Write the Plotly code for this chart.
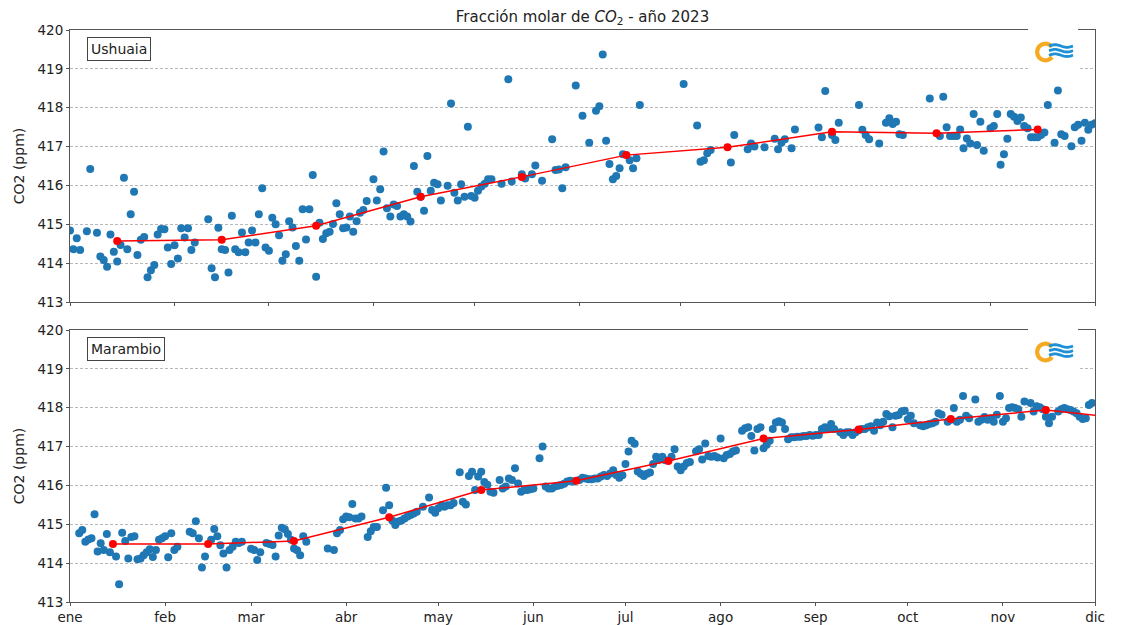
import numpy as np
import pandas as pd
import plotly.graph_objects as go

# ---------------- data ----------------
# Ushuaia: day of year (0 = 1 Jan 2023) and daily CO2 (ppm)
ush_days = [0, 1, 2, 3, 5, 6, 8, 9, 10, 11, 12, 13, 14, 15, 16, 17, 18, 19, 20, 21,
            22, 23, 24, 25, 26, 27, 28, 29, 30, 31, 32, 33, 34, 35, 36, 37,
            41, 42, 43, 44, 45, 46, 47, 48, 49, 50, 51, 52, 53, 54, 55, 56, 57, 58, 59,
            60, 61, 62, 63, 64, 65, 66, 67, 68, 69, 70, 71, 72, 73, 74, 75, 76, 77, 78,
            79, 80, 81, 82, 83, 84, 85, 86, 87, 88, 90, 91, 92, 93, 94, 95, 96, 97, 98,
            99, 100, 101, 102, 103, 104, 105, 106, 107, 108, 109, 110, 112, 113, 114,
            115, 116, 117, 118, 119, 120, 121, 122, 123, 124, 125, 128, 130, 131, 134,
            135, 137, 138, 140, 143, 144, 145, 146, 147, 150, 152, 154, 156, 157, 158,
            159, 160, 161, 162, 163, 164, 166, 167, 168, 169, 182, 186, 187, 188, 189,
            190, 196, 197, 201, 202, 203, 206, 209, 210, 211, 212, 214, 215, 222, 223,
            224, 226, 227, 228, 234, 235, 236, 237, 240, 242, 243, 244, 245, 246, 247,
            255, 258, 259, 260, 261, 262, 263, 264, 265, 266, 267, 268, 269, 270, 271,
            273, 274, 275, 276, 277, 278, 279, 280, 281, 282, 283, 284, 285, 286, 287,
            288, 289, 290, 292, 293, 294, 295, 297, 298, 299, 300, 301, 302, 303, 304]
ush_vals = [414.84, 414.36, 414.64, 414.34, 414.82, 416.42, 414.78, 414.17, 414.08, 413.91,
            414.74, 414.29, 414.04, 414.47, 416.20, 414.36, 415.26, 415.84, 414.21, 414.60,
            414.67, 413.64, 413.82, 413.95, 414.74, 414.88, 414.87, 414.40, 413.98, 414.46,
            414.12, 414.90, 414.66, 414.90, 414.34, 414.53,
            415.13, 413.87, 413.64, 414.91, 414.36, 414.34, 413.76, 415.22, 414.36, 414.28,
            414.79, 414.28, 414.53, 414.84, 414.53, 415.26, 415.93, 414.40, 414.32,
            415.17, 415.00, 414.72, 414.06, 414.23, 415.08, 414.92, 414.44, 414.06, 415.39,
            414.61, 415.39, 416.27, 413.65, 415.04, 414.62, 414.77, 414.81, 415.01,
            415.54, 415.26, 414.90, 414.92, 415.20, 414.81, 415.08, 415.30, 415.37, 415.60,
            416.16, 415.61, 415.90, 416.87, 415.41, 415.20, 415.51, 415.47, 415.20,
            415.26, 415.20, 415.07, 416.50, 415.84, 415.71, 415.35, 416.76, 415.86, 416.07,
            416.03, 415.61, 415.99, 418.11, 415.81,
            415.61, 416.03, 415.71, 417.51, 415.73, 415.68, 415.86, 415.97, 416.04, 416.16,
            416.16, 416.04, 418.73, 416.10, 416.29,
            416.18, 416.29, 416.51, 416.12, 417.19, 416.40, 416.41, 415.93, 416.47, 418.57,
            417.79, 417.10, 417.92, 418.04, 419.37,
            417.15, 416.55, 416.16, 416.24, 416.44, 416.80, 416.65, 416.44, 416.70, 418.07,
            418.61, 417.54, 416.61, 416.65, 416.83,
            416.91, 416.59, 417.30, 416.93, 417.08, 417.00, 416.98, 417.20, 416.93, 417.10,
            417.19, 416.96, 417.44, 417.49, 417.24,
            418.43, 417.30, 417.17, 417.61, 418.07, 417.43, 417.30, 417.19, 417.08, 417.61,
            417.73, 417.58, 417.64, 417.32, 417.30,
            418.24, 417.27, 418.28, 417.50, 417.27, 417.27, 417.27, 417.44, 416.96, 417.21,
            417.08, 417.84, 417.04, 417.64, 416.89,
            417.47, 417.53, 417.84, 416.53, 416.80, 417.20, 417.84, 417.77, 417.66, 417.75,
            417.53, 417.47, 417.24, 417.24, 417.24,
            417.30, 417.36, 418.07, 417.10, 418.44, 417.32, 417.27, 417.01, 417.50, 417.56,
            417.15, 417.61, 417.43, 417.56, 417.60]
# Ushuaia monthly means (15th of Jan..Oct)
ush_mean_months = [1, 2, 3, 4, 5, 6, 7, 8, 9, 10]
ush_mean_vals = [414.57, 414.60, 414.96, 415.71, 416.22, 416.78, 416.98, 417.38, 417.34, 417.44]

# Marambio: day of year and daily CO2 (ppm)
mar_days = [3, 4, 5, 6, 7, 8, 9, 10, 11, 12, 13, 15, 16, 17, 18, 19, 20, 21, 22, 23,
            24, 25, 26, 27, 28, 29, 30, 31, 32, 33, 34, 35, 39, 40, 41, 42, 43, 44, 46,
            47, 48, 49, 50, 51, 52, 53, 54, 55, 56, 59, 60, 61, 62, 64, 65, 66, 67, 68,
            69, 70, 71, 72, 73, 74, 75, 76, 77, 84, 86, 87, 88, 89, 90, 91, 92, 93, 94,
            95, 97, 98, 99, 100, 102, 103, 104, 105, 106, 107, 108, 109, 110, 111, 112,
            113, 115, 117, 118, 119, 120, 121, 122, 123, 124, 125, 127, 128, 129, 130,
            131, 132, 133, 134, 135, 136, 137, 138, 140, 141, 142, 143, 144, 145, 146,
            147, 148, 149, 150, 151, 153, 154, 155, 156, 157, 158, 159, 160, 161, 162,
            163, 164, 166, 167, 168, 169, 170, 171, 172, 173, 174, 175, 176, 177, 178,
            179, 180, 181, 182, 183, 184, 185, 186, 187, 188, 189, 190, 191, 192, 193,
            194, 196, 197, 198, 199, 200, 201, 202, 204, 205, 206, 207, 208, 209, 210,
            211, 212, 213, 214, 215, 216, 217, 219, 220, 221, 222, 223, 224, 225, 226,
            227, 228, 229, 230, 231, 232, 233, 234, 235, 236, 237, 238, 239, 240, 241,
            242, 243, 244, 245, 246, 247, 248, 249, 251, 252, 253, 254, 255, 256, 257,
            258, 259, 260, 261, 262, 263, 264, 265, 266, 267, 268, 269, 270, 271, 272,
            273, 274, 275, 277, 278, 279, 280, 281, 282, 283, 284, 286, 287, 288, 289,
            290, 291, 292, 293, 295, 296, 297, 298, 299, 300, 301, 302, 303, 304, 305,
            306, 307, 308, 309, 310, 311, 313, 314, 315, 316, 317, 318, 319, 320, 322,
            323, 324, 325, 326, 327, 328, 329, 330, 331, 332, 333]
mar_vals = [414.77, 414.85, 414.55, 414.61, 414.64, 415.26, 414.30, 414.51, 414.34, 414.75,
            414.28, 414.17, 413.46, 414.78, 414.57, 414.12, 414.67, 414.69, 414.10, 414.12,
            414.20, 414.28, 414.36, 414.16, 414.34, 414.60, 414.64, 414.69, 414.15, 414.77,
            414.34, 414.42, 414.81, 414.77, 415.08, 414.64, 413.89, 414.17, 414.60,
            414.88, 414.69, 414.46, 414.25, 413.89, 414.34, 414.42, 414.55, 414.52, 414.55,
            414.37, 414.34, 414.08, 414.28, 414.52, 414.49, 414.47, 414.17, 414.71,
            414.91, 414.87, 414.75, 414.60, 414.38, 414.33, 414.20, 414.69, 414.55, 414.38,
            414.34, 414.77, 414.85, 415.13, 415.20, 415.18, 415.52, 415.15, 415.15,
            415.20, 414.67, 414.82, 414.93, 414.93, 415.36, 415.94, 415.49, 415.10, 414.98,
            415.07, 415.10, 415.15, 415.20, 415.24, 415.28,
            415.32, 415.45, 415.69, 415.37, 415.30, 415.41, 415.49, 415.45, 415.49, 415.49,
            415.55, 416.34, 415.58, 415.51, 416.24,
            416.35, 415.88, 416.23, 416.35, 416.09, 416.02, 415.84, 415.81, 416.14, 415.92,
            415.97, 416.18, 416.14, 416.44, 416.05,
            415.84, 415.88, 415.88, 415.90, 415.92, 416.70, 417.00, 415.97, 415.92, 415.92,
            415.97, 415.99, 416.01, 416.04, 416.10,
            416.12, 416.10, 416.14, 416.20, 416.18, 416.16, 416.16, 416.18, 416.18, 416.23,
            416.27, 416.24, 416.31, 416.39, 416.27,
            416.20, 416.26, 416.55, 416.87, 417.15, 417.07, 416.36, 416.30, 416.24, 416.30,
            416.33, 416.55, 416.74, 416.67, 416.74,
            416.65, 416.74, 416.93, 416.49, 416.39, 416.49, 416.58, 416.60, 416.88, 416.93,
            416.67, 417.08, 416.76, 416.74, 416.76,
            416.72, 417.21, 416.70, 416.78, 416.81, 416.87, 416.90, 417.41, 417.47, 417.50,
            417.27, 416.90, 417.45, 417.50, 416.96,
            417.05, 417.15, 417.45, 417.62, 417.65, 417.62, 417.45, 417.19, 417.24, 417.24,
            417.25, 417.25, 417.27, 417.27, 417.30,
            417.28, 417.30, 417.30, 417.45, 417.50, 417.45, 417.58, 417.45, 417.37, 417.30,
            417.37, 417.37, 417.30, 417.37, 417.42,
            417.45, 417.45, 417.50, 417.52, 417.41, 417.62, 417.55, 417.64, 417.84, 417.78,
            417.50, 417.79, 417.81, 417.90, 417.92,
            417.70, 417.79, 417.60, 417.55, 417.52, 417.55, 417.58, 417.60, 417.64, 417.86,
            417.82, 417.64, 417.69, 417.99, 417.64,
            417.69, 418.30, 417.79, 417.73, 418.21, 417.64, 417.69, 417.76, 417.69, 417.73,
            417.64, 417.82, 418.30, 417.64, 417.73,
            417.99, 418.01, 417.99, 417.96, 417.77, 418.16, 418.12, 417.90, 418.04, 418.01,
            417.96, 417.77, 417.60, 417.77, 417.90,
            417.96, 417.99, 417.96, 417.94, 417.90, 417.86, 417.77, 417.71, 417.73, 418.07,
            418.12]
# Marambio monthly means (15th of Jan..Dec)
mar_mean_months = [1, 2, 3, 4, 5, 6, 7, 8, 9, 10, 11, 12]
mar_mean_vals = [414.49, 414.49, 414.57, 415.18, 415.88, 416.12, 416.63, 417.21, 417.44,
                 417.71, 417.94, 417.69]

month_labels = ["ene", "feb", "mar", "abr", "may", "jun", "jul", "ago", "sep", "oct", "nov", "dic"]
y_ticks = [413, 414, 415, 416, 417, 418, 419, 420]

# ---------------- build ----------------
base = pd.Timestamp("2023-01-01")
to_dates = lambda d: base + pd.to_timedelta(np.array(d, dtype=float), unit="D")
mean_dates = lambda months: [pd.Timestamp(2023, m, 15) for m in months]
month_starts = [pd.Timestamp(2023, m, 1) for m in range(1, 13)]

W, H = 1121, 625
L, R, T, B = 70, 26, 30, 23
PW, PH = W - L - R, H - T - B
top_dom = [1 - (302 - T) / PH, 1.0]
bot_dom = [0.0, 1 - (330 - T) / PH]

BLUE = "#1f77b4"
RED = "#ff0000"
FONT = "DejaVu Sans"

fig = go.Figure()
fig.add_trace(go.Scatter(x=to_dates(ush_days), y=ush_vals, mode="markers",
                         marker=dict(color=BLUE, size=8), xaxis="x", yaxis="y",
                         showlegend=False))
fig.add_trace(go.Scatter(x=mean_dates(ush_mean_months), y=ush_mean_vals, mode="lines+markers",
                         line=dict(color=RED, width=1.5), marker=dict(color=RED, size=8),
                         xaxis="x", yaxis="y", showlegend=False))
fig.add_trace(go.Scatter(x=to_dates(mar_days), y=mar_vals, mode="markers",
                         marker=dict(color=BLUE, size=8), xaxis="x2", yaxis="y2",
                         showlegend=False))
fig.add_trace(go.Scatter(x=mean_dates(mar_mean_months), y=mar_mean_vals, mode="lines+markers",
                         line=dict(color=RED, width=1.5), marker=dict(color=RED, size=8),
                         xaxis="x2", yaxis="y2", showlegend=False))

axis_common = dict(showline=True, linecolor="#555555", linewidth=1, mirror=True,
                   ticks="outside", ticklen=3, tickcolor="#555555",
                   tickfont=dict(family=FONT, size=13.5, color="#222222"))
yax = dict(range=[413, 420], tickvals=y_ticks, showgrid=True, gridcolor="#b8b8b8",
           gridwidth=0.8, griddash="3px,2px", zeroline=False,
           title=dict(text="CO2 (ppm)", font=dict(family=FONT, size=14, color="#222222"),
                      standoff=9), **axis_common)

fig.update_layout(
    width=W, height=H, margin=dict(l=L, r=R, t=T, b=B, autoexpand=False),
    paper_bgcolor="white", plot_bgcolor="white",
    title=dict(text="Fracción molar de <i>CO</i><sub>2</sub> - año 2023",
               x=(L + PW / 2) / W, xanchor="center", y=1 - 17 / H, yanchor="middle",
               font=dict(family=FONT, size=15, color="#222222")),
    xaxis=dict(domain=[0, 1], anchor="y", type="date",
               range=[pd.Timestamp(2023, 1, 1), pd.Timestamp(2023, 11, 1)],
               tickvals=month_starts[:11], showticklabels=False, showgrid=False,
               **axis_common),
    yaxis=dict(domain=top_dom, anchor="x", **yax),
    xaxis2=dict(domain=[0, 1], anchor="y2", type="date",
                range=[pd.Timestamp(2023, 1, 1), pd.Timestamp(2023, 12, 1)],
                tickvals=month_starts, ticktext=month_labels, showgrid=False,
                **axis_common),
    yaxis2=dict(domain=bot_dom, anchor="x2", **yax),
    font=dict(family=FONT),
)


def px2paper(px, py):
    return (px - L) / PW, 1 - (py - T) / PH


# station labels
for name, top_py in [("Ushuaia", 37), ("Marambio", 337)]:
    ax, ay = px2paper(87, top_py)
    fig.add_annotation(text=name, x=ax, y=ay, xref="paper", yref="paper",
                       xanchor="left", yanchor="top", showarrow=False,
                       font=dict(family=FONT, size=14, color="#222222"),
                       bordercolor="#444444", borderwidth=1, borderpad=3,
                       bgcolor="white")

# logos (white backing, orange ring, blue waves)
shapes = []
for off in [0, 300]:
    x0, y0 = px2paper(1028, 20 + off)
    x1, y1 = px2paper(1078, 73 + off)
    shapes.append(dict(type="rect", xref="paper", yref="paper", x0=x0, x1=x1, y0=y1, y1=y0,
                       fillcolor="white", line=dict(width=0), layer="above"))
    cx, cy, r = 1045.5, 52 + off, 8.3
    ang = np.linspace(np.radians(38), np.radians(322), 40)
    pts = [px2paper(cx + r * np.cos(a), cy - r * np.sin(a)) for a in ang]
    path = "M " + " L ".join(f"{p[0]:.5f},{p[1]:.5f}" for p in pts)
    shapes.append(dict(type="path", xref="paper", yref="paper", path=path,
                       line=dict(color="#f5aa22", width=4.2), layer="above"))
    for wy in [46, 50.7, 55.2]:
        xs = np.linspace(1049, 1073, 25)
        ys = wy + off - 1.3 * np.sin((xs - 1049) / 24 * 2 * np.pi)
        pts = [px2paper(a, b) for a, b in zip(xs, ys)]
        path = "M " + " L ".join(f"{p[0]:.5f},{p[1]:.5f}" for p in pts)
        shapes.append(dict(type="path", xref="paper", yref="paper", path=path,
                           line=dict(color="#1e90d6", width=2.8), layer="above"))
fig.update_layout(shapes=shapes)

fig.write_html("out.html", config={"displayModeBar": False},
               post_script="document.body.style.margin='0';document.body.style.overflow='hidden';")
